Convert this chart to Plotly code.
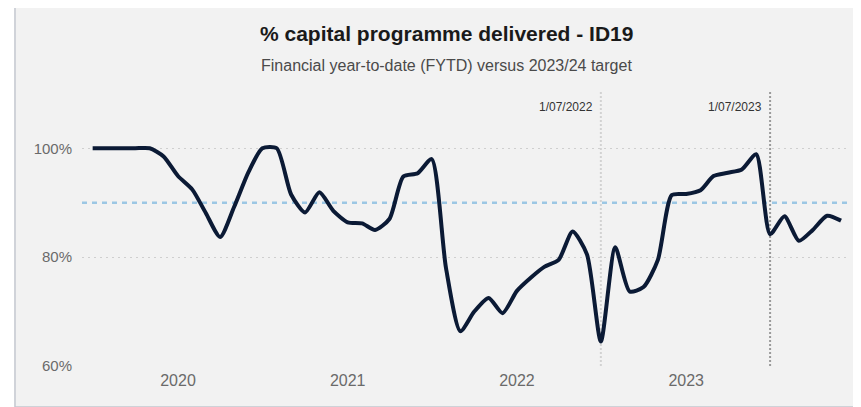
import plotly.graph_objects as go

# monthly FYTD % capital programme delivered
months = [
    "2019-07-01", "2019-08-01", "2019-09-01", "2019-10-01", "2019-11-01", "2019-12-01",
    "2020-01-01", "2020-02-01", "2020-03-01", "2020-04-01", "2020-05-01", "2020-06-01",
    "2020-07-01", "2020-08-01", "2020-09-01", "2020-10-01", "2020-11-01", "2020-12-01",
    "2021-01-01", "2021-02-01", "2021-03-01", "2021-04-01", "2021-05-01", "2021-06-01",
    "2021-07-01", "2021-08-01", "2021-09-01", "2021-10-01", "2021-11-01", "2021-12-01",
    "2022-01-01", "2022-02-01", "2022-03-01", "2022-04-01", "2022-05-01", "2022-06-01",
    "2022-07-01", "2022-08-01", "2022-09-01", "2022-10-01", "2022-11-01", "2022-12-01",
    "2023-01-01", "2023-02-01", "2023-03-01", "2023-04-01", "2023-05-01", "2023-06-01",
    "2023-07-01", "2023-08-01", "2023-09-01", "2023-10-01", "2023-11-01", "2023-12-01",
]
delivered = [
    1.000, 1.000, 1.000, 1.000, 1.000, 0.985,
    0.949, 0.924, 0.881, 0.837, 0.892, 0.956,
    1.000, 1.000, 0.915, 0.882, 0.919, 0.885,
    0.864, 0.862, 0.850, 0.870, 0.948, 0.954,
    0.980, 0.780, 0.664, 0.700, 0.725, 0.697,
    0.738, 0.763, 0.782, 0.795, 0.847, 0.805,
    0.645, 0.818, 0.737, 0.745, 0.795, 0.914,
    0.916, 0.923, 0.949, 0.955, 0.961, 0.989,
    0.842, 0.875, 0.830, 0.850, 0.876, 0.867,
]
target = 0.90
markers = ["2022-07-01", "2023-07-01"]
marker_labels = ["1/07/2022", "1/07/2023"]
marker_colors = ["#d2d2d2", "#9a9a9a"]

FONT = "Liberation Sans, Arial, sans-serif"

fig = go.Figure()
fig.add_trace(go.Scatter(
    x=months, y=delivered, mode="lines",
    line=dict(color="#0b1a35", width=4, shape="spline", smoothing=0.65),
    hoverinfo="x+y", showlegend=False,
))

shapes = [
    # grey card behind the chart
    dict(type="rect", xref="paper", yref="paper", x0=-0.0875, x1=1.03, y0=-0.149, y1=1.312,
         fillcolor="#f2f2f2", line=dict(color="#c3c7cf", width=1.5), layer="below"),
    # target line
    dict(type="line", xref="paper", yref="y", x0=0, x1=1, y0=target, y1=target,
         line=dict(color="#9cc7e4", width=2.5, dash="5px,5px"), layer="below"),
]
annotations = []
for d, lab, c in zip(markers, marker_labels, marker_colors):
    shapes.append(dict(type="line", xref="x", yref="paper", x0=d, x1=d, y0=0, y1=1,
                       line=dict(color=c, width=2, dash="2px,2px"), layer="below"))
    annotations.append(dict(x=d, y=0.94, xref="x", yref="paper", text=lab,
                            showarrow=False, xanchor="right", yanchor="middle", xshift=-6,
                            font=dict(family=FONT, size=12, color="#333333")))

annotations.append(dict(x=0.4752, y=1.2065, xref="paper", yref="paper",
                        text="<b>% capital programme delivered - ID19</b>", showarrow=False,
                        xanchor="center", yanchor="middle",
                        font=dict(family=FONT, size=21, color="#1a1a1a")))
annotations.append(dict(x=0.4752, y=1.087, xref="paper", yref="paper",
                        text="Financial year-to-date (FYTD) versus 2023/24 target", showarrow=False,
                        xanchor="center", yanchor="middle",
                        font=dict(family=FONT, size=16, color="#4a4a4a")))

# page body has an 8px margin, so the figure is 8px smaller than the window
fig.update_layout(
    width=853, height=399,
    margin=dict(l=74, r=13, t=82, b=41),
    paper_bgcolor="white", plot_bgcolor="rgba(0,0,0,0)",
    shapes=shapes, annotations=annotations,
    font=dict(family=FONT, size=15, color="#6a6a6a"),
)
fig.update_xaxes(
    range=["2019-06-08", "2023-12-16"], tick0="2020-01-01", dtick="M12", tickformat="%Y",
    showgrid=False, zeroline=False, showline=False, ticks="", ticklabelstandoff=3,
    tickfont=dict(size=16, color="#6a6a6a"),
)
fig.update_yaxes(
    range=[0.6, 1.107], tickvals=[0.6, 0.8, 1.0], tickformat=".0%",
    showgrid=True, gridcolor="#cfcfcf", gridwidth=1, griddash="2px,4px",
    zeroline=False, showline=False, ticks="", ticklabelstandoff=9,
    tickfont=dict(size=15, color="#6a6a6a"),
)

fig.write_html("out.html")
